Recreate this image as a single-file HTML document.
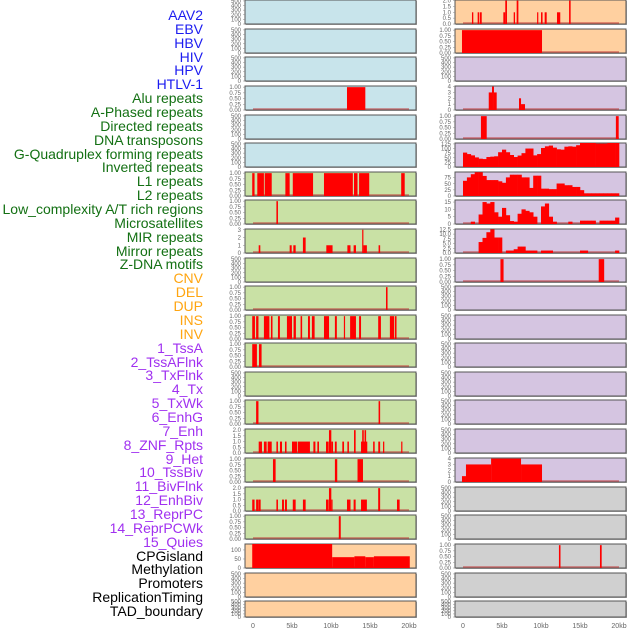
<!DOCTYPE html>
<html><head><meta charset="utf-8">
<style>
html,body{margin:0;padding:0;background:#fff;}
#wrap{position:relative;width:630px;height:630px;overflow:hidden;font-family:"Liberation Sans",sans-serif;}
#labels{position:absolute;left:0;top:0;width:203px;}
.lb{position:absolute;right:0;font-size:14px;line-height:14px;white-space:nowrap;text-align:right;}
svg{position:absolute;left:0;top:0;}
</style></head>
<body>
<div id="wrap">
<div id="labels"></div>
<svg id="chart" width="630" height="630"></svg>
</div>
<script>
// ---- labels ----
const labelNames = ["AAV2","EBV","HBV","HIV","HPV","HTLV-1","Alu repeats","A-Phased repeats","Directed repeats","DNA transposons","G-Quadruplex forming repeats","Inverted repeats","L1 repeats","L2 repeats","Low_complexity A/T rich regions","Microsatellites","MIR repeats","Mirror repeats","Z-DNA motifs","CNV","DEL","DUP","INS","INV","1_TssA","2_TssAFlnk","3_TxFlnk","4_Tx","5_TxWk","6_EnhG","7_Enh","8_ZNF_Rpts","9_Het","10_TssBiv","11_BivFlnk","12_EnhBiv","13_ReprPC","14_ReprPCWk","15_Quies","CPGisland","Methylation","Promoters","ReplicationTiming","TAD_boundary"];
const labelGroups = [6,13,5,15,5];
const groupColors = ["#1c1cf0","#137013","#ffa510","#a030f0","#000000"];

// ---- track data: intervals [startKb, endKb, value]; profiles: values per 0.5kb bin ----
const L_alu = [[12.05,14.4,1]];
const L_l1 = [[-0.1,0.2,1],[0.55,1.4,1],[1.5,2.4,1],[4.15,4.7,1],[5.1,7.7,1],[9.1,12.8,1],[12.95,13.4,1],[13.6,14.9,1],[19.0,19.45,1]];
const L_l2 = [[3.0,3.2,1]];
const L_mir = [[0.73,0.94,1],[4.7,4.96,1],[5.17,5.47,1],[6.4,6.75,2],[9.4,10.2,1],[12.1,12.5,1],[12.9,13.2,1],[14.0,14.15,3],[14.15,14.6,1],[16.1,16.3,1]];
const L_cnv = [[17.05,17.25,1]];
const L_del = [[-0.1,0.25,1],[0.4,0.7,1],[1.4,2.1,1],[2.3,2.5,1],[3.2,3.45,1],[4.35,5.0,1],[5.2,5.5,1],[6.1,6.3,1],[7.05,7.3,1],[7.55,7.9,1],[9.1,9.75,1],[10.5,10.75,1],[11.65,11.8,1],[12.45,13.2,1],[13.6,13.85,1],[16.05,16.4,1],[17.55,18.1,1],[18.2,18.4,1]];
const L_dup = [[-0.1,0.5,1],[0.77,1.1,1]];
const L_inv = [[0.4,0.7,1],[16.1,16.3,1]];
const L_tssa = [[0.73,1.15,1],[1.4,1.75,1],[1.88,2.4,1],[3.0,3.2,1],[3.46,3.72,1],[4.1,4.3,1],[5.0,5.64,1],[5.73,7.3,1],[7.74,8.0,1],[8.25,8.46,1],[9.36,9.7,1],[9.74,10.04,2],[10.04,10.26,1],[10.5,10.73,1],[11.45,11.67,1],[12.1,12.3,1],[12.95,13.16,2],[13.85,14.65,1],[14.0,14.2,2],[14.3,14.5,2],[15.4,15.6,1],[16.06,16.3,1],[16.67,16.83,1],[19.0,19.15,1]];
const L_tssaflnk = [[2.56,2.9,1],[10.5,10.8,1],[13.4,14.1,1]];
const L_txflnk = [[-0.1,0.2,1],[0.4,0.7,1],[0.73,0.98,1],[3.0,3.2,1],[3.72,3.97,1],[4.1,4.35,1],[5.1,5.47,1],[6.4,6.75,1],[9.36,9.7,1],[9.74,10.04,2],[10.04,10.2,1],[12.05,12.5,1],[12.9,13.16,1],[13.85,14.6,1],[16.05,16.3,2],[18.46,18.8,1]];
const L_tx = [[11.0,11.25,1]];
const L_txwk = [[-0.1,10.15,135],[10.15,13.0,60],[13.0,14.4,65],[14.4,15.5,60],[15.5,20.1,65]];

const R_aav = [[1.15,1.32,1],[1.88,2.09,1],[2.18,2.4,1],[5.17,5.42,1],[5.42,5.64,2],[6.5,6.67,1],[6.88,7.1,2],[9.5,9.65,1],[10.0,10.2,1],[10.47,10.73,1],[12.05,12.47,1],[13.6,13.8,2]];
const R_ebv = [[-0.13,10.13,1]];
const R_alu = [[3.3,3.72,3],[3.72,3.97,4],[3.97,4.32,3],[7.18,7.44,2],[7.44,7.95,1]];
const R_aph = [[2.3,3.04,1],[19.6,19.96,1]];
const R_gquad = [78,70,63,52,45,43,54,56,58,80,94,80,65,54,62,75,100,100,63,70,103,112,116,105,96,94,110,112,110,118,130,130,130,130,127,127,127,130,130,130];
const R_l1 = [62,76,89,97,97,82,65,65,65,60,54,76,87,87,87,76,76,33,83,83,30,30,28,28,51,51,44,44,37,37,24,11,11,11,11,11,11,11,11,11];
const R_micro = [0,0,1.6,0,6.5,15,14,15,8,5,11,6,2,1.6,7,10,9,8,5,0,12,14,5,1.6,0,0,0,1.6,0,0,2.3,2.3,2.3,2.3,0,2.3,2.3,2.3,2.3,4.4];
const R_mir = [0,0,0,0,5.8,8,11,12.5,8.2,8.2,0,1.3,1.3,2,3.4,3.4,1.3,1.3,1.3,0,1.3,1.3,1.3,0,0,0,0,0,0,0,1.3,1.3,0,0,0,0,0,0,0,1.3];
const R_zdna = [[4.8,5.2,1],[17.4,18.1,1]];
const R_het = [[-0.13,0.38,1],[0.38,3.6,3],[3.6,7.44,4],[7.44,10.13,3]];
const R_cpg = [[12.3,12.5,1],[17.56,17.78,1]];

const ticks01 = ["0.00","0.25","0.50","0.75","1.00"];
const ticksEmpty = ["0","100","200","300","400","500"];
const xTickLabels = ["0","5kb","10kb","15kb","20kb"];
const xTickValues = [0,5,10,15,20];

const BLUE="#c8e4eb", GREEN="#c9e1a5", ORANGE="#ffd0a0", PURPLE="#d5c5e1", GRAY="#d0d0d0";
const rowTops = [0,29,57,86,115,143,172,200,229,258,286,315,343,372,400,429,458,487,515,544,573,601];

function T(vals){return vals;}
// left column track specs
const leftTracks = [
 {bg:BLUE},{bg:BLUE},{bg:BLUE},
 {bg:BLUE,iv:L_alu,ymax:1.05,tv:[0,.25,.5,.75,1],tl:ticks01},
 {bg:BLUE},{bg:BLUE},
 {bg:GREEN,iv:L_l1,ymax:1.05,tv:[0,.25,.5,.75,1],tl:ticks01},
 {bg:GREEN,iv:L_l2,ymax:1.05,tv:[0,.25,.5,.75,1],tl:ticks01},
 {bg:GREEN,iv:L_mir,ymax:3.1,tv:[0,1,2,3],tl:["0","1","2","3"]},
 {bg:GREEN},
 {bg:GREEN,iv:L_cnv,ymax:1.05,tv:[0,.25,.5,.75,1],tl:ticks01},
 {bg:GREEN,iv:L_del,ymax:1.05,tv:[0,.25,.5,.75,1],tl:ticks01},
 {bg:GREEN,iv:L_dup,ymax:1.05,tv:[0,.25,.5,.75,1],tl:ticks01},
 {bg:GREEN},
 {bg:GREEN,iv:L_inv,ymax:1.05,tv:[0,.25,.5,.75,1],tl:ticks01},
 {bg:GREEN,iv:L_tssa,ymax:2.1,tv:[0,.5,1,1.5,2],tl:["0.0","0.5","1.0","1.5","2.0"]},
 {bg:GREEN,iv:L_tssaflnk,ymax:1.05,tv:[0,.25,.5,.75,1],tl:ticks01},
 {bg:GREEN,iv:L_txflnk,ymax:2.1,tv:[0,.5,1,1.5,2],tl:["0.0","0.5","1.0","1.5","2.0"]},
 {bg:GREEN,iv:L_tx,ymax:1.05,tv:[0,.25,.5,.75,1],tl:ticks01},
 {bg:ORANGE,iv:L_txwk,ymax:133,tv:[0,50,100],tl:["0","50","100"]},
 {bg:ORANGE},{bg:ORANGE}
];
const rightTracks = [
 {bg:ORANGE,iv:R_aav,ymax:2.05,tv:[0,.5,1,1.5,2],tl:["0.0","0.5","1.0","1.5","2.0"]},
 {bg:ORANGE,iv:R_ebv,ymax:1.05,tv:[0,.25,.5,.75,1],tl:ticks01},
 {bg:PURPLE},
 {bg:PURPLE,iv:R_alu,ymax:4.1,tv:[0,1,2,3,4],tl:["0","1","2","3","4"]},
 {bg:PURPLE,iv:R_aph,ymax:1.05,tv:[0,.25,.5,.75,1],tl:ticks01},
 {bg:PURPLE,pf:R_gquad,ymax:130,tv:[0,25,50,75,100,125],tl:["0","25","50","75","100","125"]},
 {bg:PURPLE,pf:R_l1,ymax:98,tv:[0,25,50,75],tl:["0","25","50","75"]},
 {bg:PURPLE,pf:R_micro,ymax:16.4,tv:[0,5,10,15],tl:["0","5","10","15"]},
 {bg:PURPLE,pf:R_mir,ymax:12.7,tv:[0,2.5,5,7.5,10,12.5],tl:["0.0","2.5","5.0","7.5","10.0","12.5"]},
 {bg:PURPLE,iv:R_zdna,ymax:1.05,tv:[0,.25,.5,.75,1],tl:ticks01},
 {bg:PURPLE},{bg:PURPLE},{bg:PURPLE},{bg:PURPLE},{bg:PURPLE},{bg:PURPLE},
 {bg:PURPLE,iv:R_het,ymax:4.1,tv:[0,1,2,3,4],tl:["0","1","2","3","4"]},
 {bg:GRAY},{bg:GRAY},
 {bg:GRAY,iv:R_cpg,ymax:1.05,tv:[0,.25,.5,.75,1],tl:ticks01},
 {bg:GRAY},{bg:GRAY}
];

const NS="http://www.w3.org/2000/svg";
const svg=document.getElementById('chart');
function mk(tag,attrs,parent){const e=document.createElementNS(NS,tag);for(const k in attrs)e.setAttribute(k,attrs[k]);(parent||svg).appendChild(e);return e;}

// labels
const lbBox=document.getElementById('labels');
let li=0;
labelGroups.forEach((n,g)=>{for(let k=0;k<n;k++){const d=document.createElement('div');d.className='lb';d.style.top=(8+li*13.86)+'px';d.style.color=groupColors[g];d.textContent=labelNames[li];


lbBox.appendChild(d);li++;}});

const cols=[{x0:245,x1:416,zero:253,tracks:leftTracks,name:'left'},{x0:455,x1:626,zero:463,tracks:rightTracks,name:'right'}];
const pxPerKb=7.8;
cols.forEach(col=>{
 const xs=kb=>col.zero+kb*pxPerKb;
 col.tracks.forEach((tr,i)=>{
  const top=rowTops[i], h=(i===rowTops.length-1)?16:24, bot=top+h;
  const g=mk('g',{});
  
  
  mk('rect',{x:col.x0+1,y:top+1,width:col.x1-col.x0,height:h,fill:'#aaa'},g);
  mk('rect',{x:col.x0,y:top,width:col.x1-col.x0,height:h,fill:tr.bg,stroke:'#555','stroke-width':1},g);
  const ymax=tr.ymax||520;
  const ys=v=>bot-Math.min(v,ymax)/ymax*h;
  const tv=tr.tv||[0,100,200,300,400,500], tl=tr.tl||ticksEmpty;
  tv.forEach((v,j)=>{const t=mk('text',{x:col.x0-4,y:ys(v)+2,'font-size':6,fill:'#666','text-anchor':'end'},g);t.textContent=tl[j];
   mk('line',{x1:col.x0-2,x2:col.x0,y1:ys(v),y2:ys(v),stroke:'#888','stroke-width':0.5},g);});
  if(tr.iv||tr.pf){
   mk('line',{x1:xs(0),x2:xs(20),y1:bot-1,y2:bot-1,stroke:'#c03030','stroke-width':1.5,opacity:0.6},g);
  }
  if(tr.iv){tr.iv.forEach(d=>{const r=mk('rect',{x:xs(d[0]),y:ys(d[2]),width:Math.max(1.2,xs(d[1])-xs(d[0])),height:bot-ys(d[2]),fill:'#ff0000'},g);
   
   });}
  if(tr.pf){tr.pf.forEach((v,k)=>{if(v<=0)return;const r=mk('rect',{x:xs(k*0.5),y:ys(v),width:0.5*pxPerKb+0.3,height:bot-ys(v),fill:'#ff0000'},g);
   
   });}
 });
 xTickValues.forEach((v,j)=>{const t=mk('text',{x:xs(v),y:628,'font-size':7,fill:'#666','text-anchor':'middle'});t.textContent=xTickLabels[j];
  
  });
});
</script>
</body></html>
